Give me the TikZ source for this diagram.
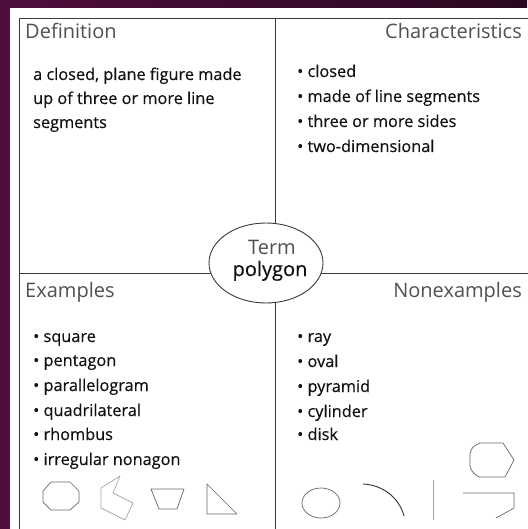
\documentclass[tikz,border=0pt]{standalone}
\usepackage{fontspec}
\setmainfont{Open Sans}
\newfontfamily\bodyfont{Open Sans}[FakeBold=0.35]
\usetikzlibrary{shapes.geometric}
\definecolor{plum}{HTML}{4F0E3C}
\definecolor{plumdark}{HTML}{2A0820}
\definecolor{framegray}{HTML}{3A3A3A}
\definecolor{headgray}{HTML}{505050}
\definecolor{bodytext}{HTML}{111111}
\definecolor{shapegray}{HTML}{666666}
\tikzset{
  heading/.style={inner sep=0pt, text=headgray, font=\fontsize{20}{24}\selectfont},
  bodyline/.style={inner sep=0pt, anchor=base west, text=bodytext, font=\bodyfont\fontsize{16.3}{24}\selectfont},
  divider/.style={draw=framegray, line width=0.9pt},
  termbox/.style={ellipse, draw=framegray, line width=0.9pt, fill=white, minimum width=114pt, minimum height=80pt, inner sep=0pt},
  sketch/.style={draw=shapegray, line width=0.7pt, line join=round},
  sketchlight/.style={draw=black!35, line width=0.7pt, line join=round},
}
\begin{document}
\begin{tikzpicture}[x=1pt,y=-1pt]
\useasboundingbox (0,0) rectangle (527,529);
% background
\fill[plum] (0,0) rectangle (527,529);
\shade[left color=plum, right color=plumdark] (0,0) rectangle (527,8);
\fill[white] (10,8) rectangle (527,529);
% frame and dividers
\coordinate (tl) at (19,18);
\coordinate (tr) at (530,18);
\coordinate (bl) at (19,532);
\coordinate (vtop) at (275,18);
\coordinate (vbot) at (275,532);
\coordinate (hleft) at (19,273);
\coordinate (hright) at (530,273);
\draw[divider] (bl) -- (tl) -- (tr);
\draw[divider] (vtop) -- (vbot);
\draw[divider] (hleft) -- (hright);
% term ellipse
\node[termbox] (term) at (266,263) {};
\node[inner sep=0pt, anchor=base, text=headgray, font=\fontsize{20}{24}\selectfont] (termlabel) at (272,254) {Term};
\node[inner sep=0pt, anchor=base, text=bodytext, font=\bodyfont\fontsize{20}{24}\selectfont] (termname) at (270,276) {polygon};
% headings
\node[heading, anchor=base west] (defhead) at (25,39) {Definition};
\node[heading, anchor=base east] (charhead) at (522,39) {Characteristics};
\node[heading, anchor=base west] (exhead) at (25,297) {Examples};
\node[heading, anchor=base east] (nonhead) at (522,297) {Nonexamples};
% definition
\node[bodyline] (def1) at (33,80) {a closed, plane figure made};
\node[bodyline] (def2) at (33,104) {up of three or more line};
\node[bodyline] (def3) at (33,128) {segments};
% characteristics
\node[bodyline] (ch1) at (297,77) {• closed};
\node[bodyline] (ch2) at (297,102) {• made of line segments};
\node[bodyline] (ch3) at (297,127) {• three or more sides};
\node[bodyline] (ch4) at (297,152) {• two-dimensional};
% examples
\node[bodyline] (ex1) at (33,342) {• square};
\node[bodyline] (ex2) at (33,366) {• pentagon};
\node[bodyline] (ex3) at (33,391) {• parallelogram};
\node[bodyline] (ex4) at (33,416) {• quadrilateral};
\node[bodyline] (ex5) at (33,440) {• rhombus};
\node[bodyline] (ex6) at (33,465) {• irregular nonagon};
% nonexamples
\node[bodyline] (ne1) at (297,342) {• ray};
\node[bodyline] (ne2) at (297,367) {• oval};
\node[bodyline] (ne3) at (297,392) {• pyramid};
\node[bodyline] (ne4) at (297,417) {• cylinder};
\node[bodyline] (ne5) at (297,440) {• disk};
% example sketches
\draw[sketch] (51,482) -- (70,482) -- (79,491) -- (79,502) -- (70,510) -- (51,510) -- (43,502) -- (43,491) -- cycle;
\draw[sketchlight] (101,488) -- (120,476) -- (113,493) -- (133,503) -- (125,520) -- (101,508) -- cycle;
\draw[sketch] (151,489) -- (184,489) -- (177,509) -- (159,509) -- cycle;
\draw[sketch] (207,484) -- (207,514) -- (237,514) -- cycle;
% nonexample sketches
\draw[sketch] (321,503) ellipse [x radius=19, y radius=15];
\draw[draw=black!80, line width=0.9pt] (363,484) .. controls (385,485) and (400,500) .. (404,516);
\draw[sketchlight] (433,480) -- (433,520);
\draw[sketch] (480,443) -- (503,443) -- (514,460) -- (505,477) -- (479,477) .. controls (472,472) .. (470,466) -- (470,454) .. controls (472,447) .. cycle;
\draw[sketch] (463,493) -- (514,493) -- (514,508) -- (496,518);
\end{tikzpicture}
\end{document}
